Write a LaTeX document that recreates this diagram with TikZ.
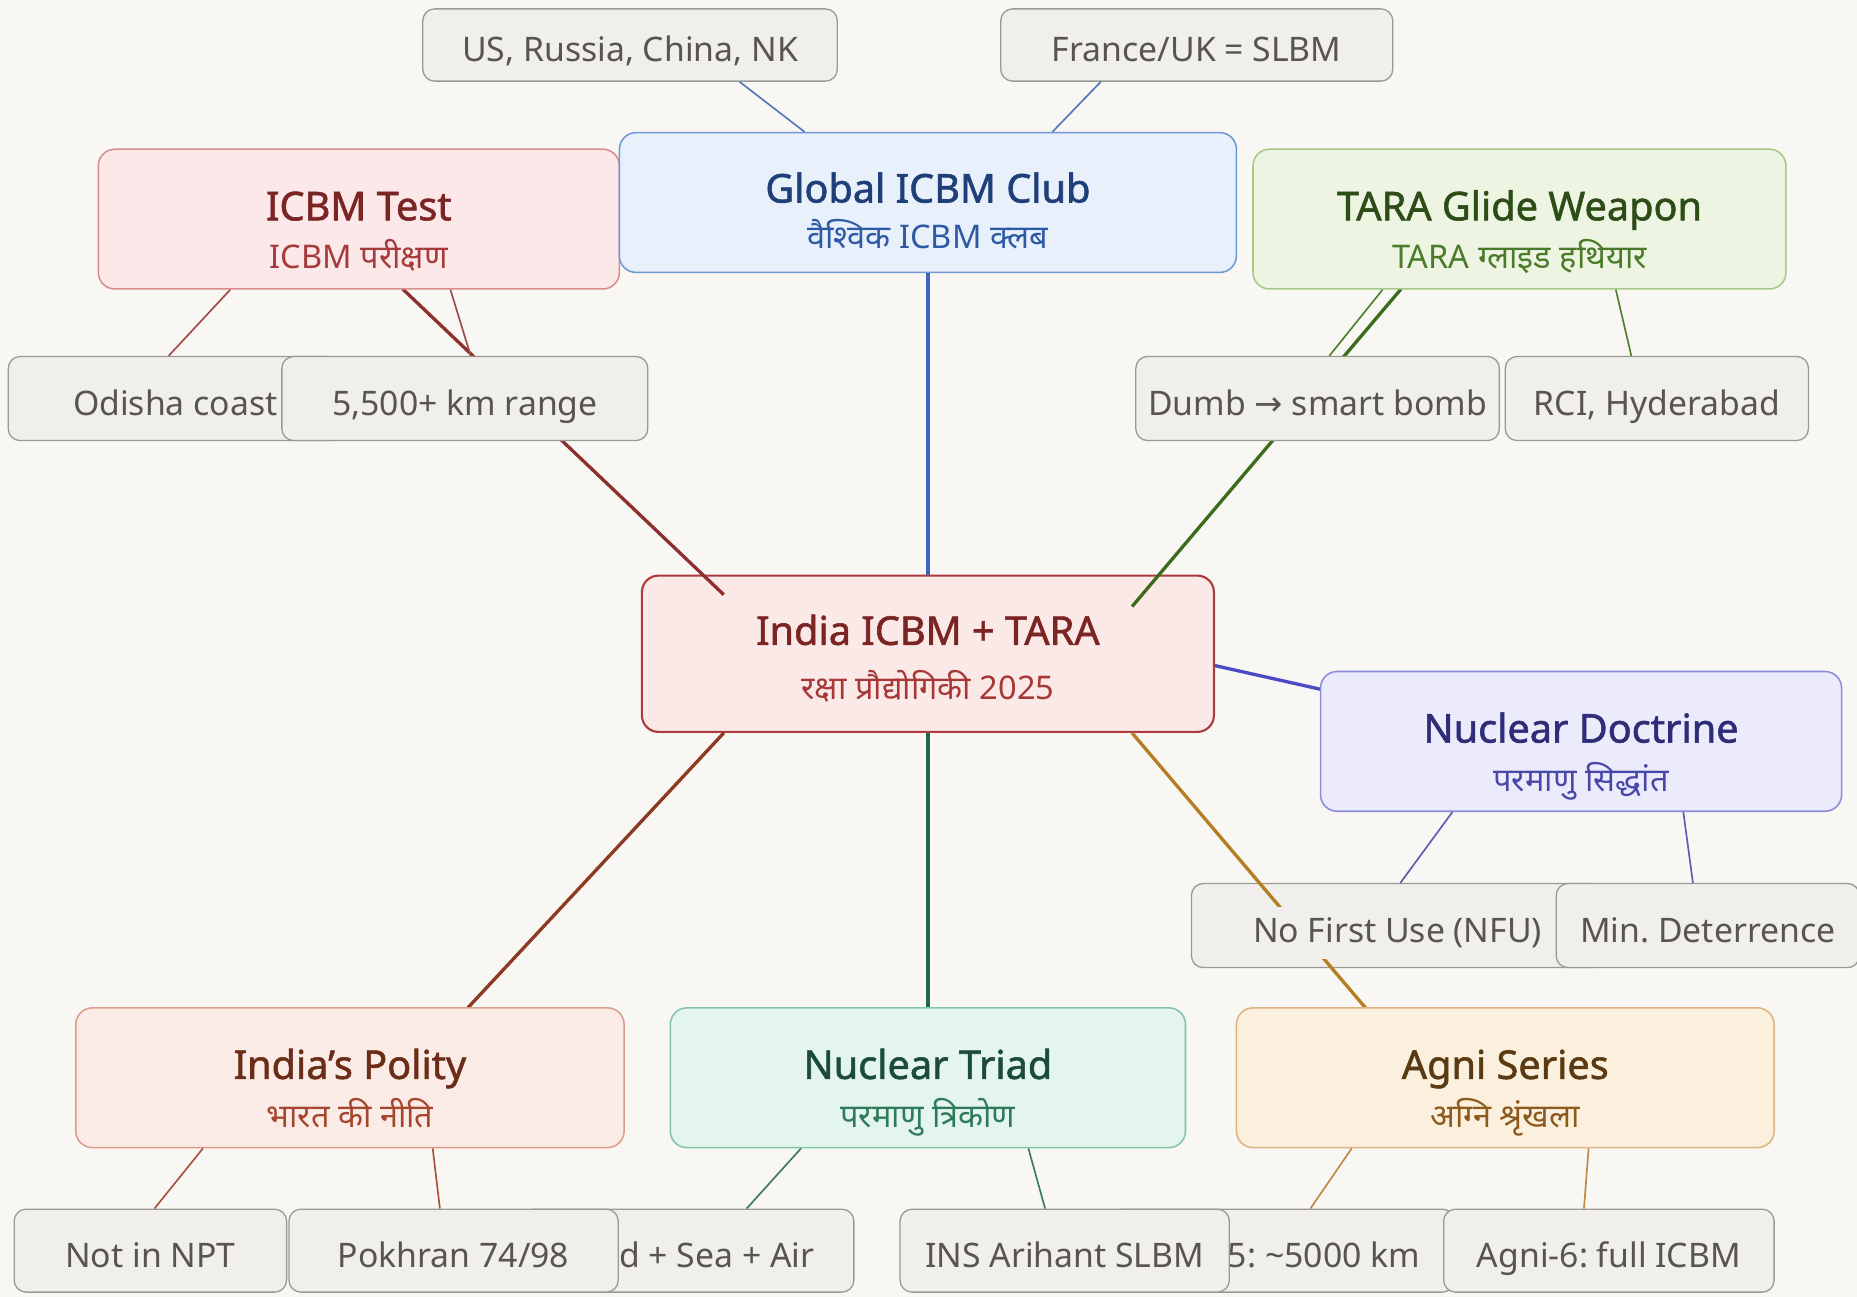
\documentclass[tikz,border=0pt]{standalone}
\usepackage{fontspec}
\setmainfont{Noto Sans}
\newfontfamily\hin[Script=Devanagari]{Noto Sans}
\newfontfamily\ttlfont[FakeBold=1.4]{Noto Sans}
\newfontfamily\arrowfont{DejaVu Sans}
\frenchspacing
\definecolor{bg}{HTML}{F8F7F3}
\definecolor{leaffill}{HTML}{F0EFEB}
\definecolor{leafdraw}{HTML}{9A9993}
\definecolor{leaftext}{HTML}{58544F}
% hub
\definecolor{hubfill}{HTML}{FBE9E8}\definecolor{hubdraw}{HTML}{AC3B3B}
\definecolor{hubttl}{HTML}{7A2424}\definecolor{hubsub}{HTML}{A83838}
% global
\definecolor{glfill}{HTML}{E7F0FB}\definecolor{gldraw}{HTML}{7097D6}
\definecolor{glttl}{HTML}{1E3F78}\definecolor{glsub}{HTML}{2E5AA5}
\definecolor{gledge}{HTML}{3F63C4}\definecolor{gleaf}{HTML}{5577BB}
% icbm test
\definecolor{icfill}{HTML}{FCE8E8}\definecolor{icdraw}{HTML}{D98C8C}
\definecolor{icttl}{HTML}{7B2424}\definecolor{icsub}{HTML}{A53B3B}
\definecolor{icedge}{HTML}{8E2F2F}\definecolor{icleaf}{HTML}{A24848}
% tara
\definecolor{tafill}{HTML}{EDF5E2}\definecolor{tadraw}{HTML}{A5C987}
\definecolor{tattl}{HTML}{2D4C18}\definecolor{tasub}{HTML}{4A7A2A}
\definecolor{taedge}{HTML}{3D6B1C}\definecolor{taleaf}{HTML}{4F7F2F}
% doctrine
\definecolor{dofill}{HTML}{ECEBFC}\definecolor{dodraw}{HTML}{8B8BDA}
\definecolor{dottl}{HTML}{2E2E78}\definecolor{dosub}{HTML}{4848A8}
\definecolor{doedge}{HTML}{4A4AC2}\definecolor{doleaf}{HTML}{5C5CB0}
% polity
\definecolor{pofill}{HTML}{FAEBE6}\definecolor{podraw}{HTML}{DB9E8A}
\definecolor{pottl}{HTML}{6B2D18}\definecolor{posub}{HTML}{A5472E}
\definecolor{poedge}{HTML}{8E3A22}\definecolor{poleaf}{HTML}{A5533A}
% triad
\definecolor{trfill}{HTML}{E3F5EE}\definecolor{trdraw}{HTML}{82C4A8}
\definecolor{trttl}{HTML}{1C4C38}\definecolor{trsub}{HTML}{2E7A5A}
\definecolor{tredge}{HTML}{1E6B45}\definecolor{trleaf}{HTML}{3D7A60}
% agni
\definecolor{agfill}{HTML}{FBF0DD}\definecolor{agdraw}{HTML}{DDB37F}
\definecolor{agttl}{HTML}{5A3A12}\definecolor{agsub}{HTML}{8C5A1C}
\definecolor{agedge}{HTML}{B77D25}\definecolor{agleaf}{HTML}{C08A45}

\begin{document}
\begin{tikzpicture}[x=1pt,y=-1pt,
  mbox/.style={rounded corners=14pt, line width=1.3pt, minimum height=118pt, inner sep=0pt},
  leaf/.style={draw=leafdraw, fill=leaffill, rounded corners=10pt, line width=1.1pt,
    minimum height=71pt, inner sep=0pt, text=leaftext, font=\fontsize{28.5}{34}\selectfont,
    text height=34pt, text depth=6pt},
  leaftxt/.style={text=leaftext, font=\fontsize{28.5}{34}\selectfont},
  ttl/.style={anchor=base, font=\ttlfont\fontsize{33.5}{40}\selectfont},
  sub/.style={anchor=base, font=\hin\fontsize{27.5}{33}\selectfont},
  mainedge/.style={line width=2.8pt},
  leafedge/.style={line width=1.4pt},
]
\fill[bg] (0,0) rectangle (1568,1095);
\useasboundingbox (0,0) rectangle (1568,1095);

% hub box first (edges run over it)
\node[mbox, draw=hubdraw, fill=hubfill, line width=1.8pt, minimum width=483pt, minimum height=132pt] (hub) at (783.5,552) {};
\node[ttl, text=hubttl] (hubt) at ([yshift=7.5pt]hub.center) {India ICBM + TARA};
\node[sub, text=hubsub] (hubs) at ([yshift=-39pt]hub.center) {रक्षा प्रौद्योगिकी 2025};

% NFU box (the Agni connector crosses it)
\node[leaf, minimum width=348pt] (nfu) at (1180,781.5) {};

% main connectors
\draw[mainedge, gledge] (hub.north) -- (783.5,230) coordinate (glb);
\draw[mainedge, icedge] ([xshift=70pt,yshift=-17pt]hub.north west) -- (340,244) coordinate (icb);
\draw[mainedge, taedge] ([xshift=-70pt,yshift=-27pt]hub.north east) -- (1183,244) coordinate (tab);
\draw[mainedge, doedge] ([yshift=-10pt]hub.east) -- (1115,582) coordinate (dob);
\draw[mainedge, poedge] ([xshift=70pt]hub.south west) -- (395,851) coordinate (pob);
\draw[mainedge, tredge] (hub.south) -- (783.5,851) coordinate (trb);
\draw[mainedge, agedge] ([xshift=-70pt]hub.south east) -- (1153,851) coordinate (agb);

% NFU label with opaque background
\node[leaftxt, fill=leaffill, anchor=base, text height=30pt, text depth=14pt, inner xsep=3pt, inner ysep=0pt] (nfut) at ([yshift=-14pt]nfu.center) {No First Use (NFU)};

% category boxes
\node[mbox, draw=icdraw, fill=icfill, minimum width=440pt] (icbm) at (303,185) {};
\node[mbox, draw=gldraw, fill=glfill, minimum width=521pt] (global) at (783.5,171) {};
\node[mbox, draw=tadraw, fill=tafill, minimum width=450pt] (tara) at (1283,185) {};
\node[mbox, draw=dodraw, fill=dofill, minimum width=440pt] (doctrine) at (1335,626) {};
\node[mbox, draw=podraw, fill=pofill, minimum width=463pt] (polity) at (295.5,910) {};
\node[mbox, draw=trdraw, fill=trfill, minimum width=435pt] (triad) at (783.5,910) {};
\node[mbox, draw=agdraw, fill=agfill, minimum width=454pt] (agni) at (1271,910) {};

\node[ttl, text=icttl] (icbmt) at ([yshift=-1pt]icbm.center) {ICBM Test};
\node[sub, text=icsub] (icbms) at ([yshift=-42pt]icbm.center) {ICBM परीक्षण};
\node[ttl, text=glttl] (globalt) at ([yshift=0pt]global.center) {Global ICBM Club};
\node[sub, text=glsub] (globals) at ([yshift=-39pt]global.center) {वैश्विक ICBM क्लब};
\node[ttl, text=tattl] (tarat) at ([yshift=-1pt]tara.center) {TARA Glide Weapon};
\node[sub, text=tasub] (taras) at ([yshift=-42pt]tara.center) {TARA ग्लाइड हथियार};
\node[ttl, text=dottl] (doctrinet) at ([yshift=-1pt]doctrine.center) {Nuclear Doctrine};
\node[sub, text=dosub] (doctrines) at ([yshift=-42pt]doctrine.center) {परमाणु सिद्धांत};
\node[ttl, text=pottl] (polityt) at ([yshift=-1pt]polity.center) {India’s Polity};
\node[sub, text=posub] (politys) at ([yshift=-42pt]polity.center) {भारत की नीति};
\node[ttl, text=trttl] (triadt) at ([yshift=-1pt]triad.center) {Nuclear Triad};
\node[sub, text=trsub] (triads) at ([yshift=-42pt]triad.center) {परमाणु त्रिकोण};
\node[ttl, text=agttl] (agnit) at ([yshift=-1pt]agni.center) {Agni Series};
\node[sub, text=agsub] (agnis) at ([yshift=-42pt]agni.center) {अग्नि श्रृंखला};

% leaf boxes
\node[leaf, minimum width=350pt, minimum height=61pt] (us) at (532,38) {US, Russia, China, NK};
\node[leaf, minimum width=331pt, minimum height=61pt] (france) at (1010.5,38) {France/UK = SLBM};
\node[leaf, minimum width=282pt] (odisha) at (148,336.5) {Odisha coast};
\node[leaf, minimum width=309pt] (range) at (392.5,336.5) {5,500+ km range};
\node[leaf, minimum width=307pt] (dumb) at (1112.5,336.5) {Dumb {\arrowfont →} smart bomb};
\node[leaf, minimum width=256pt] (rci) at (1399,336.5) {RCI, Hyderabad};
\node[leaf, minimum width=256pt] (mind) at (1442,781.5) {Min. Deterrence};
\node[leaf, minimum width=230pt, minimum height=70pt] (npt) at (127,1056) {Not in NPT};
\node[leaf, minimum width=280pt, minimum height=70pt] (land) at (581,1056) {Land + Sea + Air};
\node[leaf, minimum width=278pt, minimum height=70pt] (pokhran) at (383,1056) {Pokhran 74/98};
\node[leaf, minimum width=290pt, minimum height=70pt] (agnifive) at (1083,1056) {Agni-5: \textasciitilde5000 km};
\node[leaf, minimum width=278pt, minimum height=70pt] (ins) at (899,1056) {INS Arihant SLBM};
\node[leaf, minimum width=279pt, minimum height=70pt] (agnisix) at (1358.5,1056) {Agni-6: full ICBM};

% leaf connectors
\draw[leafedge, gleaf] ([xshift=157pt]global.north west) -- ([xshift=268pt]us.south west);
\draw[leafedge, gleaf] ([xshift=-156pt]global.north east) -- ([xshift=85pt]france.south west);
\draw[leafedge, icleaf] ([xshift=112pt]icbm.south west) -- ([xshift=136pt]odisha.north west);
\draw[leafedge, icleaf] ([xshift=298pt]icbm.south west) -- ([xshift=160pt]range.north west);
\draw[leafedge, taleaf] ([xshift=110pt]tara.south west) -- ([xshift=164pt]dumb.north west);
\draw[leafedge, taleaf] ([xshift=307pt]tara.south west) -- ([xshift=107pt]rci.north west);
\draw[leafedge, doleaf] ([xshift=112pt]doctrine.south west) -- ([xshift=177pt]nfu.north west);
\draw[leafedge, doleaf] ([xshift=307pt]doctrine.south west) -- ([xshift=116pt]mind.north west);
\draw[leafedge, poleaf] ([xshift=108pt]polity.south west) -- ([xshift=119pt]npt.north west);
\draw[leafedge, poleaf] ([xshift=302pt]polity.south west) -- ([xshift=128pt]pokhran.north west);
\draw[leafedge, trleaf] ([xshift=111pt]triad.south west) -- ([xshift=190pt]land.north west);
\draw[leafedge, trleaf] ([xshift=303pt]triad.south west) -- ([xshift=123pt]ins.north west);
\draw[leafedge, agleaf] ([xshift=98pt]agni.south west) -- ([xshift=169pt]agnifive.north west);
\draw[leafedge, agleaf] ([xshift=298pt]agni.south west) -- ([xshift=119pt]agnisix.north west);
\end{tikzpicture}
\end{document}
